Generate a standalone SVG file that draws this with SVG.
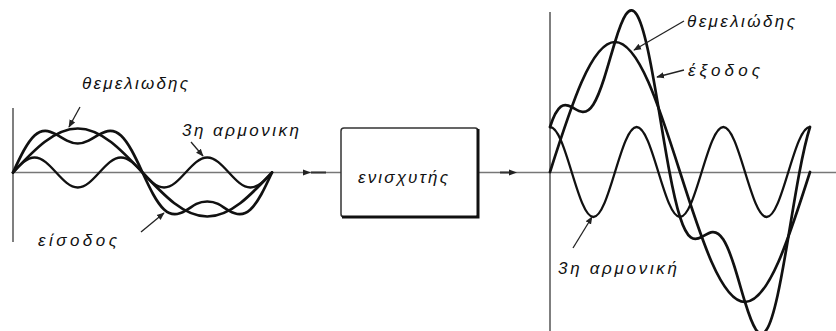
<svg xmlns="http://www.w3.org/2000/svg" width="836" height="331" viewBox="0 0 836 331">
<style>
.axis{stroke:#555;stroke-width:1.5;fill:none}
.haxis{stroke:#777;stroke-width:1.6;fill:none}
.wave{stroke:#111;stroke-width:2.7;fill:none;stroke-linejoin:round;stroke-linecap:round}
.wave3{stroke:#111;stroke-width:2.3;fill:none;stroke-linejoin:round;stroke-linecap:round}
.lead{stroke:#222;stroke-width:1.3;fill:none}
.lbl{font-family:"Liberation Sans","DejaVu Sans",sans-serif;font-style:italic;font-size:17px;fill:#111}
</style>
<defs>
<marker id="tip" viewBox="0 0 10 10" refX="9" refY="5" markerWidth="6" markerHeight="6" orient="auto">
<path d="M0,1 L10,5 L0,9 z" fill="#222"/>
</marker>
</defs>
<g id="connectors">
<line class="haxis" x1="13" y1="172.5" x2="341" y2="172.5"/>
<line class="haxis" x1="478" y1="172.5" x2="836" y2="172.5"/>
<path d="M303,169.5 L311,172.5 L303,175.5 z" fill="#222"/>
<line x1="311" y1="172.5" x2="326" y2="172.5" stroke="#333" stroke-width="2"/>
<path d="M509,169.5 L517,172.5 L509,175.5 z" fill="#222"/>
<line x1="500" y1="172.5" x2="509" y2="172.5" stroke="#333" stroke-width="2"/>
</g>
<g id="input-panel">
<line class="axis" x1="13" y1="108" x2="13" y2="242"/>
<path class="wave" d="M13,172.5 C34.12,149.96 54.32,128.5 77.75,128.5 S121.38,149.96 142.5,172.5 S183.82,216.5 207.25,216.5 S250.88,195.04 272,172.5"/>
<path class="wave3" d="M13,172.5 C20.04,164.82 26.77,157.5 34.58,157.5 S49.12,164.82 56.17,172.5 S69.94,187.5 77.75,187.5 S92.29,180.18 99.33,172.5 S113.1,157.5 120.92,157.5 S135.46,164.82 142.5,172.5 S156.27,187.5 164.08,187.5 S178.62,180.18 185.67,172.5 S199.44,157.5 207.25,157.5 S221.79,164.82 228.83,172.5 S242.6,187.5 250.42,187.5 S264.96,180.18 272,172.5"/>
<path class="wave" d="M13,172.5 C16.6,164.73 20.19,156.99 23.79,150.5 C27.39,144.01 30.98,138.83 34.58,135.5 C38.18,132.17 41.78,130.72 45.38,130.78 C48.98,130.84 52.57,132.39 56.17,134.4 C59.77,136.41 63.36,138.83 66.96,140.61 C70.56,142.39 74.15,143.5 77.75,143.5 C81.35,143.5 84.94,142.39 88.54,140.61 C92.14,138.83 95.73,136.41 99.33,134.4 C102.93,132.39 106.53,130.84 110.13,130.78 C113.73,130.72 117.32,132.17 120.92,135.5 C124.52,138.83 128.11,144.01 131.71,150.5 C135.31,156.99 138.9,164.73 142.5,172.5 C146.1,180.27 149.69,188.01 153.29,194.5 C156.89,200.99 160.48,206.17 164.08,209.5 C167.68,212.83 171.28,214.28 174.88,214.22 C178.48,214.16 182.07,212.61 185.67,210.6 C189.27,208.59 192.86,205.67 196.46,203.89 C200.06,202.11 203.65,201.5 207.25,201.5 C210.85,201.5 214.44,202.11 218.04,203.89 C221.64,205.67 225.23,208.59 228.83,210.6 C232.43,212.61 236.03,214.16 239.63,214.22 C243.23,214.28 246.82,212.83 250.42,209.5 C254.02,206.17 257.61,200.99 261.21,194.5 C264.81,188.01 268.4,180.27 272,172.5"/>
</g>
<g id="label-fund-in">
<line class="lead" x1="80" y1="107" x2="69" y2="127" marker-end="url(#tip)"/>
<text class="lbl" x="82" y="89" textLength="106" lengthAdjust="spacing">θεμελιωδης</text>
</g>
<g id="label-h3-in">
<line class="lead" x1="191" y1="142" x2="203" y2="156" marker-end="url(#tip)"/>
<text class="lbl" x="182" y="136" textLength="117" lengthAdjust="spacing">3η αρμονικη</text>
</g>
<g id="label-input">
<line class="lead" x1="141" y1="232" x2="164" y2="213" marker-end="url(#tip)"/>
<text class="lbl" x="38" y="246" textLength="79" lengthAdjust="spacing">είσοδος</text>
</g>
<g id="amplifier">
<rect x="341" y="128" width="137" height="89" rx="3" fill="#fff" stroke="#333" stroke-width="1.5"/>
<path d="M478,129 L478,217 L342,217" fill="none" stroke="#111" stroke-width="3"/>
<text class="lbl" x="358" y="183" textLength="90" lengthAdjust="spacing">ενισχυτής</text>
</g>
<g id="output-panel">
<line class="axis" x1="550" y1="12" x2="550" y2="331"/>
<path class="wave" d="M550,172 C571.2,105.4 591.48,42 615,42 S658.8,105.4 680,172 S721.48,302 745,302 S788.8,238.6 810,172"/>
<path class="wave3" d="M550,127 C557.84,127 564.6,148.95 571.67,172 S585.5,217 593.33,217 S607.93,195.05 615,172 S628.83,127 636.67,127 S651.27,148.95 658.33,172 S672.16,217 680,217 S694.6,195.05 701.67,172 S715.5,127 723.33,127 S737.93,148.95 745,172 S758.83,217 766.67,217 S781.27,195.05 788.33,172 S802.16,127 810,127"/>
<path class="wave" d="M550,127 C553.61,115.66 557.22,109.17 560.83,106.54 C564.44,103.91 568.06,105.04 571.67,107 C575.28,108.96 578.89,111.59 582.5,111.9 C586.11,112.21 589.72,110.09 593.33,104.42 C596.94,98.75 600.56,89.52 604.17,78.25 C607.78,66.98 611.39,53.78 615,42 C618.61,30.22 622.22,20 625.83,14.61 C629.44,9.22 633.06,8.75 636.67,14.42 C640.28,20.09 643.89,31.91 647.5,48.26 C651.11,64.61 654.72,85.39 658.33,107 C661.94,128.61 665.56,150.89 669.17,170.18 C672.78,189.47 676.39,205.66 680,217 C683.61,228.34 687.22,234.83 690.83,237.46 C694.44,240.09 698.06,238.96 701.67,237 C705.28,235.04 708.89,232.41 712.5,232.1 C716.11,231.79 719.72,233.91 723.33,239.58 C726.94,245.25 730.56,254.48 734.17,265.75 C737.78,277.02 741.39,290.22 745,302 C748.61,313.78 752.22,324 755.83,329.39 C759.44,334.78 763.06,335.25 766.67,329.58 C770.28,323.91 773.89,312.09 777.5,295.74 C781.11,279.39 784.72,258.61 788.33,237 C791.94,215.39 795.56,193.11 799.17,173.82 C802.78,154.53 806.39,138.34 810,127"/>
</g>
<g id="label-fund-out">
<line class="lead" x1="684" y1="21" x2="634" y2="50" marker-end="url(#tip)"/>
<text class="lbl" x="687" y="27" textLength="108" lengthAdjust="spacing">θεμελιώδης</text>
</g>
<g id="label-output">
<line class="lead" x1="684" y1="70" x2="657" y2="77" marker-end="url(#tip)"/>
<text class="lbl" x="688" y="76" textLength="72" lengthAdjust="spacing">έξοδος</text>
</g>
<g id="label-h3-out">
<line class="lead" x1="573" y1="248" x2="592" y2="217" marker-end="url(#tip)"/>
<text class="lbl" x="558" y="274" textLength="119" lengthAdjust="spacing">3η αρμονική</text>
</g>
</svg>
